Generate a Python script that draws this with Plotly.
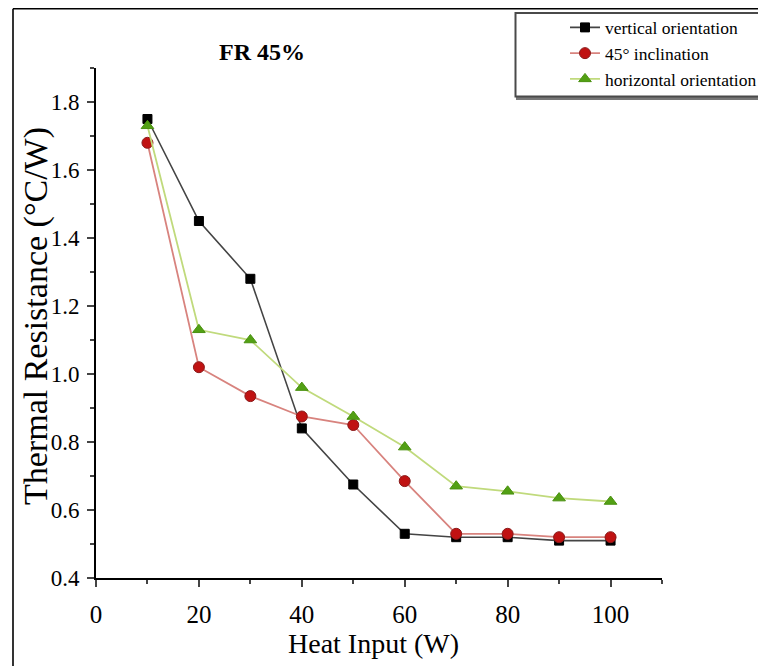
import plotly.graph_objects as go

heat_input = [10, 20, 30, 40, 50, 60, 70, 80, 90, 100]
vertical = [1.75, 1.45, 1.28, 0.84, 0.675, 0.53, 0.52, 0.52, 0.51, 0.51]
inclined = [1.68, 1.02, 0.935, 0.875, 0.85, 0.685, 0.53, 0.53, 0.52, 0.52]
horizontal = [1.73, 1.13, 1.10, 0.96, 0.875, 0.785, 0.67, 0.655, 0.635, 0.625]
series_names = ["vertical orientation", "45° inclination", "horizontal orientation"]
x_ticks = [0, 20, 40, 60, 80, 100]
y_ticks = [0.4, 0.6, 0.8, 1.0, 1.2, 1.4, 1.6, 1.8]
title_text = "<b>FR 45%</b>"
x_title = "Heat Input (W)"
y_title = "Thermal Resistance (°C/W)"

# page body has an 8px margin; the figure is sized to fit the remaining area
OFF = 8
W, H = 766 - OFF, 666 - OFF
L, R, T, B = 96 - OFF, W - (662 - OFF), 68 - OFF, H - (578 - OFF)
FONT = "Liberation Serif"

fig = go.Figure()
styles = [
    dict(line=dict(color="#444444", width=1.6),
         marker=dict(symbol="square", size=9, color="#000000", line=dict(color="#000000", width=1))),
    dict(line=dict(color="#d8837e", width=1.8),
         marker=dict(symbol="circle", size=11, color="#c01212", line=dict(color="#8a1a1a", width=1))),
    dict(line=dict(color="#c0da7c", width=1.8),
         marker=dict(symbol="triangle-up", size=11, color="#52a014", line=dict(color="#4a9010", width=1))),
]
for name, ys, st in zip(series_names, [vertical, inclined, horizontal], styles):
    fig.add_trace(go.Scatter(x=heat_input, y=ys, name=name, mode="lines+markers",
                             line=st["line"], marker=st["marker"]))

pw = W - L - R
ph = H - T - B
def fx(sx):
    """screen pixel x -> paper x"""
    return (sx - OFF - L) / pw
def fy(sy):
    """screen pixel y -> paper y"""
    return (H - B - (sy - OFF)) / ph

shapes = [
    # outer frame (left and top)
    dict(type="line", xref="paper", yref="paper",
         x0=fx(13), x1=fx(13), y0=fy(8.8), y1=fy(680),
         line=dict(color="black", width=1.6)),
    dict(type="line", xref="paper", yref="paper",
         x0=fx(13), x1=fx(790), y0=fy(8.8), y1=fy(8.8),
         line=dict(color="black", width=1.6)),
    # legend box with slight shadow
    dict(type="rect", xref="paper", yref="paper",
         x0=fx(517), x1=fx(800), y0=fy(15), y1=fy(99),
         line=dict(color="#777777", width=2), fillcolor="#777777", layer="above"),
    dict(type="rect", xref="paper", yref="paper",
         x0=fx(515.5), x1=fx(800), y0=fy(13), y1=fy(96.5),
         line=dict(color="#4a4a4a", width=2), fillcolor="white", layer="above"),
]

annotations = [
    dict(text=title_text, x=fx(262), xref="paper", y=fy(52), yref="paper",
         showarrow=False, font=dict(size=24, family=FONT), xanchor="center", yanchor="middle"),
    dict(text=x_title, x=fx(373), xref="paper", y=fy(643), yref="paper",
         showarrow=False, font=dict(size=28, family=FONT), xanchor="center", yanchor="middle"),
    dict(text=y_title, x=fx(36), xref="paper", y=fy(316), yref="paper", textangle=-90,
         showarrow=False, font=dict(size=34, family=FONT), xanchor="center", yanchor="middle"),
]

fig.update_layout(
    width=W, height=H,
    margin=dict(l=L, r=R, t=T, b=B, autoexpand=False),
    paper_bgcolor="white", plot_bgcolor="white",
    font=dict(family=FONT, color="black"),
    shapes=shapes,
    annotations=annotations,
    legend=dict(x=fx(565), y=fy(9.5), xanchor="left", yanchor="top",
                borderwidth=0, bgcolor="rgba(0,0,0,0)",
                font=dict(size=17.5, family=FONT), tracegroupgap=0),
    xaxis=dict(range=[0, 110], tickvals=x_ticks, ticks="outside", ticklen=7, tickwidth=2,
               showline=True, linewidth=2, linecolor="black", showgrid=False, zeroline=False,
               tickfont=dict(size=25, family=FONT), ticklabelstandoff=6,
               minor=dict(dtick=10, ticks="outside", ticklen=4, tickwidth=2, tick0=0, showgrid=False)),
    yaxis=dict(range=[0.4, 1.9], tickvals=y_ticks, tickformat=".1f", ticks="outside", ticklen=7, tickwidth=2,
               showline=True, linewidth=2, linecolor="black", showgrid=False, zeroline=False,
               tickfont=dict(size=23, family=FONT), ticklabelstandoff=3,
               minor=dict(dtick=0.1, ticks="outside", ticklen=4, tickwidth=2, tick0=0.4, showgrid=False)),
)

fig.write_html("out.html")
